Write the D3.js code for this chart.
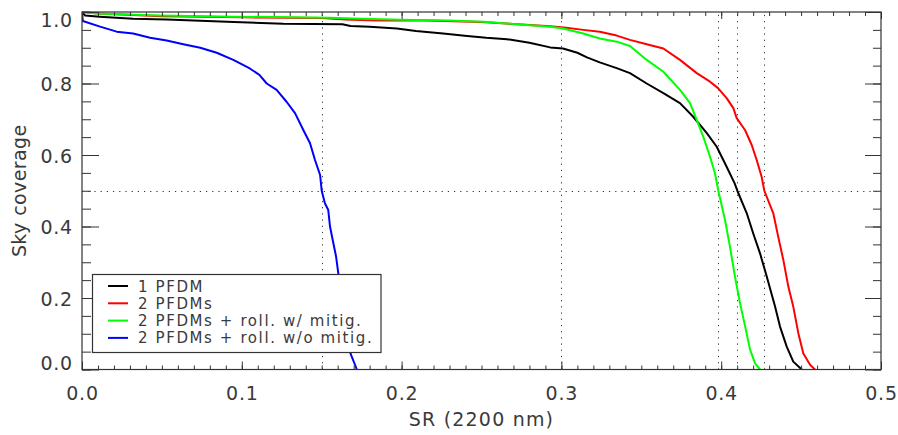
<!DOCTYPE html>
<html>
<head>
<meta charset="utf-8">
<script src="https://cdn.jsdelivr.net/npm/d3@7"></script>
<style>
  html, body { margin: 0; padding: 0; background: #fff; }
  svg { display: block; }
  text { font-family: "DejaVu Sans", sans-serif; fill: #3a3a3a; }
</style>
</head>
<body>
<svg id="chart" width="898" height="435"></svg>
<script>
// Sky coverage as a function of Strehl ratio at 2200 nm, one curve per configuration.
// Each entry is [SR, coverage].
const onePfdm = [
  [0.000, 1.000], [0.002, 0.990], [0.011, 0.987], [0.032, 0.981], [0.053, 0.979],
  [0.095, 0.972], [0.126, 0.967], [0.163, 0.966], [0.168, 0.961], [0.180, 0.959],
  [0.197, 0.954], [0.209, 0.947], [0.226, 0.940], [0.241, 0.933], [0.253, 0.928],
  [0.266, 0.924], [0.280, 0.914], [0.293, 0.901], [0.301, 0.898], [0.310, 0.886],
  [0.316, 0.873], [0.324, 0.859], [0.3346, 0.843], [0.3429, 0.829], [0.3534, 0.800],
  [0.3638, 0.773], [0.3742, 0.745], [0.3825, 0.707], [0.391, 0.661], [0.3972, 0.623],
  [0.4034, 0.567], [0.4085, 0.520], [0.4101, 0.500], [0.416, 0.437], [0.420, 0.381],
  [0.4243, 0.325], [0.4285, 0.260], [0.4337, 0.176], [0.4368, 0.120], [0.441, 0.064],
  [0.4451, 0.022], [0.4504, 0.000]
];

const twoPfdms = [
  [0.000, 1.000], [0.010, 0.996], [0.050, 0.988], [0.100, 0.985], [0.150, 0.983],
  [0.165, 0.979], [0.185, 0.976], [0.215, 0.976], [0.250, 0.972], [0.275, 0.965],
  [0.293, 0.960], [0.303, 0.956], [0.3137, 0.950], [0.324, 0.945], [0.3346, 0.934],
  [0.3429, 0.922], [0.3534, 0.910], [0.3638, 0.898], [0.3742, 0.866], [0.3847, 0.829],
  [0.393, 0.805], [0.398, 0.787], [0.4034, 0.759], [0.4076, 0.731], [0.4097, 0.703],
  [0.4149, 0.670], [0.4191, 0.628], [0.4222, 0.586], [0.4253, 0.539], [0.4270, 0.500],
  [0.4326, 0.437], [0.4357, 0.371], [0.4389, 0.306], [0.442, 0.232], [0.4451, 0.176],
  [0.4483, 0.101], [0.4514, 0.045], [0.4556, 0.013], [0.4587, 0.000]
];

const twoPfdmsRollMitig = [
  [0.000, 1.000], [0.009, 0.996], [0.049, 0.990], [0.095, 0.987], [0.155, 0.984],
  [0.170, 0.982], [0.199, 0.978], [0.230, 0.976], [0.251, 0.973], [0.272, 0.966],
  [0.293, 0.959], [0.301, 0.954], [0.3137, 0.940], [0.324, 0.926], [0.3346, 0.917],
  [0.3429, 0.905], [0.3534, 0.866], [0.3638, 0.833], [0.3742, 0.782], [0.3805, 0.745],
  [0.3847, 0.698], [0.3888, 0.651], [0.393, 0.595], [0.3961, 0.549], [0.3982, 0.500],
  [0.4024, 0.418], [0.4055, 0.343], [0.4086, 0.260], [0.4118, 0.185], [0.415, 0.120],
  [0.4181, 0.055], [0.4212, 0.017], [0.4243, 0.000]
];

const twoPfdmsRollNoMitig = [
  [0.000, 1.000], [0.0005, 0.975], [0.0113, 0.959], [0.0217, 0.945], [0.032, 0.940],
  [0.0426, 0.928], [0.053, 0.920], [0.0634, 0.910], [0.074, 0.900], [0.0843, 0.886],
  [0.0947, 0.866], [0.105, 0.842], [0.111, 0.824], [0.1156, 0.800], [0.1218, 0.782],
  [0.128, 0.749], [0.1333, 0.717], [0.1385, 0.670], [0.1427, 0.633], [0.1458, 0.586],
  [0.149, 0.544], [0.150, 0.500], [0.152, 0.465], [0.1541, 0.446], [0.1552, 0.400],
  [0.1573, 0.353], [0.159, 0.316], [0.1604, 0.269], [0.163, 0.200], [0.1655, 0.100],
  [0.168, 0.045], [0.172, 0.000]
];

const seriesNames = ["1 PFDM", "2 PFDMs", "2 PFDMs + roll. w/ mitig.", "2 PFDMs + roll. w/o mitig."];
const seriesColors = ["#000000", "#ff0000", "#00ff00", "#0000ff"];
const seriesData = [onePfdm, twoPfdms, twoPfdmsRollMitig, twoPfdmsRollNoMitig];

// Reference lines: SR values where curves reach 50% coverage, plus 0.3, and the 50% level.
const refSR = [0.15, 0.3, 0.3982, 0.4101, 0.427];
const refCoverage = [0.5];

const xMajor = [0, 0.1, 0.2, 0.3, 0.4, 0.5];
const yMajor = [0, 0.2, 0.4, 0.6, 0.8, 1.0];
const xMinor = d3.range(0, 51).map(i => i / 100);
const yMinor = d3.range(0, 21).map(i => i / 20);

const xTitle = "SR (2200 nm)";
const yTitle = "Sky coverage";

const svg = d3.select("#chart");
const W = 898, H = 435;
const m = { left: 82, right: 17, top: 12, bottom: 65.5 };
const x = d3.scaleLinear().domain([0, 0.5]).range([m.left, W - m.right]);
const y = d3.scaleLinear().domain([0, 1]).range([H - m.bottom, m.top]);
const axisColor = "#333";

svg.append("defs").append("clipPath").attr("id", "plotClip")
  .append("rect")
  .attr("x", x(0)).attr("y", y(1) - 2)
  .attr("width", x(0.5) - x(0)).attr("height", y(0) - y(1) + 3);

// Dotted reference lines
const refG = svg.append("g")
  .attr("stroke", "#333").attr("stroke-width", 1).attr("stroke-dasharray", "1.2,5");
refG.selectAll("line.v").data(refSR).join("line").attr("class", "v")
  .attr("x1", d => Math.round(x(d)) + 0.5).attr("x2", d => Math.round(x(d)) + 0.5)
  .attr("y1", y(0)).attr("y2", y(1));
refG.selectAll("line.h").data(refCoverage).join("line").attr("class", "h")
  .attr("x1", x(0)).attr("x2", x(0.5))
  .attr("y1", d => Math.round(y(d)) + 0.5).attr("y2", d => Math.round(y(d)) + 0.5);

// Curves
const line = d3.line().x(d => x(d[0])).y(d => y(d[1]));
svg.append("g").attr("clip-path", "url(#plotClip)")
  .selectAll("path").data(seriesData).join("path")
  .attr("d", line)
  .attr("fill", "none")
  .attr("stroke", (d, i) => seriesColors[i])
  .attr("stroke-width", 2)
  .attr("stroke-linejoin", "round");

// Axes with inward ticks on all four sides
function styleAxis(g) {
  g.select(".domain").remove();
  g.selectAll(".tick line").attr("stroke", axisColor);
}
const fmt = d3.format(".1f");

svg.append("g").attr("transform", `translate(0,${y(0)})`)
  .call(d3.axisBottom(x).tickValues(xMinor).tickSize(-4).tickFormat(""))
  .call(styleAxis);
const xAxisG = svg.append("g").attr("transform", `translate(0,${y(0)})`)
  .call(d3.axisBottom(x).tickValues(xMajor).tickSize(-8).tickPadding(17.5).tickFormat(fmt))
  .call(styleAxis);

svg.append("g").attr("transform", `translate(0,${y(1)})`)
  .call(d3.axisTop(x).tickValues(xMinor).tickSize(-4).tickFormat(""))
  .call(styleAxis);
svg.append("g").attr("transform", `translate(0,${y(1)})`)
  .call(d3.axisTop(x).tickValues(xMajor).tickSize(-7).tickFormat(""))
  .call(styleAxis);

svg.append("g").attr("transform", `translate(${x(0)},0)`)
  .call(d3.axisLeft(y).tickValues(yMinor).tickSize(-9).tickFormat(""))
  .call(styleAxis);
const yAxisG = svg.append("g").attr("transform", `translate(${x(0)},0)`)
  .call(d3.axisLeft(y).tickValues(yMajor).tickSize(-17).tickPadding(9).tickFormat(fmt))
  .call(styleAxis);

svg.append("g").attr("transform", `translate(${x(0.5)},0)`)
  .call(d3.axisRight(y).tickValues(yMinor).tickSize(-8).tickFormat(""))
  .call(styleAxis);
svg.append("g").attr("transform", `translate(${x(0.5)},0)`)
  .call(d3.axisRight(y).tickValues(yMajor).tickSize(-16).tickFormat(""))
  .call(styleAxis);

[xAxisG, yAxisG].forEach(g => g.selectAll(".tick text")
  .attr("fill", "#3a3a3a")
  .style("font-family", '"DejaVu Sans", sans-serif')
  .style("font-size", "19px")
  .style("letter-spacing", "0.8px"));

// Keep the end labels of the y axis inside the frame
yAxisG.selectAll(".tick text").attr("y", d => {
  const ty = y(d);
  const c = Math.min(Math.max(ty + 1, y(1) + 8), y(0) - 6);
  return c - ty;
});

// Frame
svg.append("rect")
  .attr("x", x(0)).attr("y", y(1))
  .attr("width", x(0.5) - x(0)).attr("height", y(0) - y(1))
  .attr("fill", "none").attr("stroke", axisColor).attr("stroke-width", 1.2);

// Axis titles
svg.append("text")
  .attr("x", (x(0) + x(0.5)) / 2).attr("y", 426)
  .attr("text-anchor", "middle")
  .style("font-size", "19px").style("letter-spacing", "1.2px")
  .text(xTitle);
svg.append("text")
  .attr("transform", `translate(25.5,${(y(0) + y(1)) / 2}) rotate(-90)`)
  .attr("text-anchor", "middle")
  .style("font-size", "19px").style("letter-spacing", "0.4px")
  .text(yTitle);

// Legend
const lg = svg.append("g");
lg.append("rect")
  .attr("x", 92.5).attr("y", 274.5).attr("width", 288.5).attr("height", 78)
  .attr("fill", "#fff").attr("stroke", axisColor).attr("stroke-width", 1.2);
const rows = lg.selectAll("g.row").data(seriesNames).join("g").attr("class", "row")
  .attr("transform", (d, i) => `translate(0,${286 + i * 17.3})`);
rows.append("line")
  .attr("x1", 108).attr("x2", 128).attr("y1", 0).attr("y2", 0)
  .attr("stroke", (d, i) => seriesColors[i]).attr("stroke-width", 2);
rows.append("text")
  .attr("x", 138).attr("y", 5.5)
  .style("font-size", "15px").style("letter-spacing", "1.6px")
  .text(d => d);
</script>
</body>
</html>
